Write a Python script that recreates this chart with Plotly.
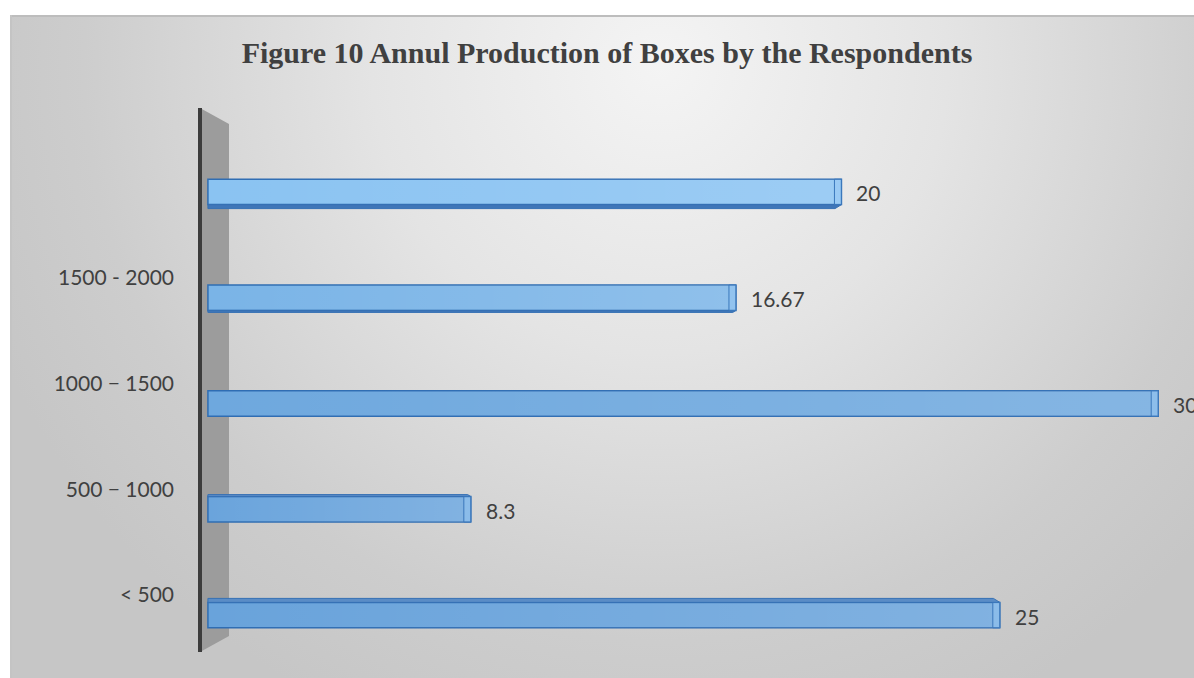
import base64
import plotly.graph_objects as go

# Annual production of boxes, share of respondents (%)
categories = ["< 500", "500 − 1000", "1000 − 1500", "1500 - 2000", ""]
values = [25, 8.3, 30, 16.67, 20]
bar_colors = ["#69a3db", "#6aa4dc", "#6ea8de", "#7ab4e7", "#8ac3f2"]

W, H = 1194, 678
ML, MR, MT, MB = 200, 0, 139, 10
PW, PH = W - ML - MR, H - MT - MB
X_RANGE = [-0.25, 31.13]
Y_RANGE = [-0.5, 4.5]
PX_X = PW / (X_RANGE[1] - X_RANGE[0])   # pixels per x unit
PX_Y = PH / (Y_RANGE[1] - Y_RANGE[0])   # pixels per y unit
BAR_W = 0.24
LABEL_OFFSET = 0.19
TEXT_FONT = "Lato, Open Sans, sans-serif"


def paper_x(px):
    return (px - ML) / PW


def paper_y(py):
    return (H - MB - py) / PH


fig = go.Figure()

ypos = list(range(len(values)))

# front faces of the bars
fig.add_trace(go.Bar(
    y=ypos, x=values, orientation="h", width=BAR_W,
    marker=dict(color=bar_colors, line=dict(color="#2f6db3", width=1.5)),
    hoverinfo="skip", showlegend=False,
))

for i, v in enumerate(values):
    yc = ypos[i]
    yt, yb = yc + BAR_W / 2, yc - BAR_W / 2
    # light sheen along each bar
    fig.add_trace(go.Scatter(
        x=[0, v, v, 0, 0], y=[yb, yb, yt, yt, yb], mode="lines",
        fill="toself", line=dict(width=0),
        fillgradient=dict(type="horizontal",
                          colorscale=[[0, "rgba(255,255,255,0)"],
                                      [1, "rgba(255,255,255,0.16)"]]),
        hoverinfo="skip", showlegend=False,
    ))
    # top / underside face depending on the bar's height in the view
    d_px = (2 - i) * 2.0
    if abs(d_px) > 0.5:
        dy = d_px / PX_Y
        dx = abs(d_px) * 1.6 / PX_X
        edge = yt if d_px > 0 else yb
        face_col = "#5a8cc6" if d_px > 0 else "#3f76b8"
        fig.add_trace(go.Scatter(
            x=[0, 0, v - dx, v, 0], y=[edge, edge + dy, edge + dy, edge, edge],
            mode="lines", fill="toself", fillcolor=face_col,
            line=dict(color="#3570b4", width=1),
            hoverinfo="skip", showlegend=False,
        ))
    # end face of the bar
    e = 7 / PX_X
    fig.add_trace(go.Scatter(
        x=[v - e, v, v, v - e, v - e], y=[yb, yb, yt, yt, yb],
        mode="lines", fill="toself", fillcolor="rgba(150,200,245,0.45)",
        line=dict(color="#3a77bb", width=1),
        hoverinfo="skip", showlegend=False,
    ))
    # value label
    fig.add_annotation(
        x=v, y=yc, text=f"{v:g}", showarrow=False, xanchor="left",
        xshift=13, yshift=-1,
        font=dict(family=TEXT_FONT, size=21, color="#404040"),
    )

# background panel with a soft radial gradient and a thin border
bg_w, bg_h = W - 10, H - 15
svg = f"""<svg xmlns='http://www.w3.org/2000/svg' width='{bg_w}' height='{bg_h}' viewBox='0 0 {bg_w} {bg_h}'>
<defs><radialGradient id='g' gradientUnits='userSpaceOnUse' cx='650' cy='50' r='720'>
<stop offset='0' stop-color='#f4f4f4'/>
<stop offset='0.4' stop-color='#e4e4e4'/>
<stop offset='0.8' stop-color='#cdcdcd'/>
<stop offset='1' stop-color='#c6c6c6'/>
</radialGradient></defs>
<rect x='0' y='0' width='{bg_w}' height='{bg_h}' fill='url(#g)'/>
<line x1='0' y1='1' x2='{bg_w}' y2='1' stroke='#bdbdbd' stroke-width='2'/>
<line x1='1' y1='0' x2='1' y2='{bg_h}' stroke='#c4c4c4' stroke-width='2'/>
</svg>"""
src = "data:image/svg+xml;base64," + base64.b64encode(svg.encode()).decode()
fig.add_layout_image(
    source=src, xref="paper", yref="paper",
    x=paper_x(10), y=paper_y(15),
    sizex=(W - 10) / PW, sizey=(H - 15) / PH,
    xanchor="left", yanchor="top", sizing="stretch", layer="below",
)

# side wall of the category axis
wall = [(200, 108), (229, 124), (229, 636), (200, 652)]
path = "M " + " L ".join(f"{paper_x(a)},{paper_y(b)}" for a, b in wall) + " Z"
fig.add_shape(type="path", path=path, xref="paper", yref="paper",
              fillcolor="#9c9c9c", line=dict(width=0), layer="below")
fig.add_shape(type="line", xref="paper", yref="paper",
              x0=paper_x(200), x1=paper_x(200), y0=paper_y(108), y1=paper_y(652),
              line=dict(color="#3c3c3c", width=4), layer="below")

fig.update_layout(
    width=W, height=H,
    margin=dict(l=ML, r=MR, t=MT, b=MB),
    paper_bgcolor="white",
    plot_bgcolor="rgba(0,0,0,0)",
    title=dict(
        text="<b>Figure 10 Annul Production of Boxes by the Respondents</b>",
        x=607 / W, xref="container", xanchor="center",
        y=1 - 52 / H, yref="container", yanchor="middle",
        font=dict(family="Liberation Serif, Times New Roman, serif", size=30, color="#404040"),
    ),
    xaxis=dict(range=X_RANGE, visible=False, fixedrange=True),
    yaxis=dict(
        range=Y_RANGE, tickmode="array",
        tickvals=[p + LABEL_OFFSET for p in ypos], ticktext=categories,
        showgrid=False, zeroline=False, showline=False, ticks="",
        ticklabelstandoff=25,
        tickfont=dict(family=TEXT_FONT, size=21, color="#404040"),
        fixedrange=True,
    ),
    bargap=0.76,
    showlegend=False,
    hovermode=False,
)

fig.write_html("out.html")
